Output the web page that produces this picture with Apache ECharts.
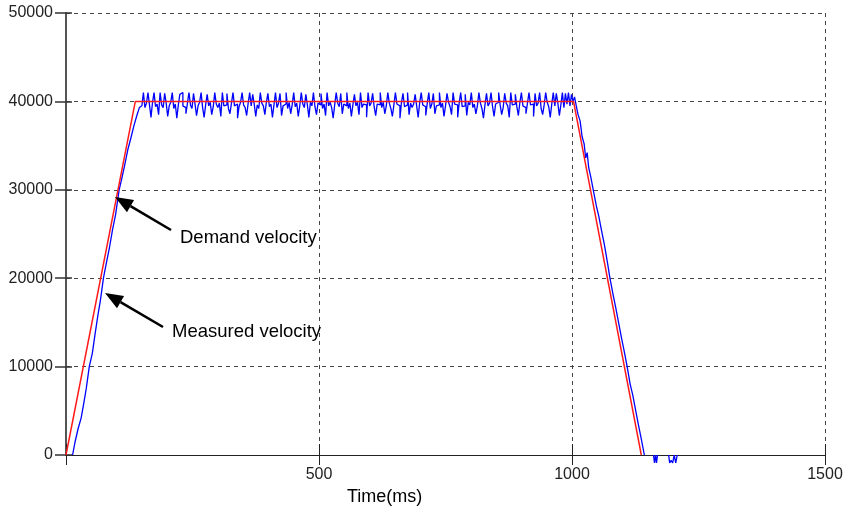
<!DOCTYPE html>
<html>
<head>
<meta charset="utf-8">
<script src="https://cdn.jsdelivr.net/npm/echarts@6/dist/echarts.min.js"></script>
<style>
  html, body { margin: 0; padding: 0; background: #fff; }
  #chart { width: 855px; height: 509px; }
</style>
</head>
<body>
<div id="chart"></div>
<script>
// Velocity profile: demand vs. measured (time in ms, velocity in counts/s)
const xTicks = [0, 500, 1000, 1500];
const yTicks = [0, 10000, 20000, 30000, 40000, 50000];

// Demand velocity: trapezoid corners
const demandTime = [0, 137, 1003, 1137];
const demandVel = [0, 40000, 40000, 0];

// Measured velocity: acceleration ramp
const rampUpTime = [13, 18, 24, 30, 35, 40, 46, 52, 57, 63, 68, 74, 80, 86, 92, 98, 105, 110, 116, 122, 128, 134, 140, 145, 150];
const rampUpVel = [0, 1500, 3000, 4200, 5800, 7500, 10000, 11500, 13500, 15800, 17500, 20000, 21800, 23500, 25500, 27200, 30000, 31200, 32800, 34500, 35800, 37200, 38400, 39300, 39500];

// Measured velocity: constant-speed section, sampled every 3 ms from 150 ms
const plateauStart = 150;
const plateauStep = 3;
const plateauVel = [
  39500, 41000, 39300, 39800, 41000, 39600, 38200, 39900, 41000, 39400, 39700, 38500, 41000, 39600, 39300,
  40900, 39800, 38300, 39500, 39900, 41000, 39200, 39700, 38100, 39600, 40800, 41000, 39500, 39300, 38600,
  39800, 41000, 39600, 39200, 40900, 39700, 38400, 39500, 39900, 41000, 39300, 38200, 39600, 40800, 39500,
  39900, 38500, 39400, 41000, 39700, 39300, 39800, 38300, 41000, 39500, 39600, 40900, 39200, 38600, 39800,
  41000, 39500, 39700, 38100, 39400, 39900, 41000, 39600, 39300, 38400, 39800, 41000, 39500, 40800, 39700,
  38300, 39600, 39200, 41000, 39800, 39500, 38500, 39900, 40900, 39400, 39700, 38200, 39600, 41000, 39300,
  39800, 40900, 38400, 39500, 39700, 41000, 39200, 39900, 38600, 39600, 41000, 39400, 39800, 38300, 39500,
  41000, 39700, 39300, 40800, 39600, 38200, 39900, 39500, 41000, 39400, 38500, 39800, 39600, 40900, 39200,
  39700, 38400, 41000, 39500, 39900, 39300, 38100, 39600, 41000, 39800, 39400, 40900, 38600, 39700, 39500,
  41000, 39200, 39800, 38300, 39600, 40800, 39500, 39900, 38500, 41000, 39300, 39700, 39600, 38200, 41000,
  39500, 39800, 40900, 39400, 38400, 39700, 39600, 41000, 39300, 39900, 38600, 39500, 41000, 39800, 39200,
  38300, 39600, 41000, 39700, 39500, 38100, 39900, 40900, 39400, 39600, 41000, 38500, 39800, 39300, 39700,
  40800, 39500, 38200, 39900, 41000, 39600, 39400, 38400, 39800, 41000, 39200, 39700, 40900, 38600, 39500,
  39600, 41000, 39300, 39800, 38300, 39500, 40900, 39900, 39400, 38500, 41000, 39700, 39600, 38200, 39800,
  41000, 39400, 39500, 40800, 38400, 39900, 39600, 41000, 39300, 39700, 38600, 39500, 41000, 39800, 39200,
  38100, 39600, 40900, 39500, 39800, 41000, 39400, 38300, 39700, 39900, 41000, 39600, 38500, 39300, 40900,
  39800, 39500, 38200, 41000, 39600, 39700, 40800, 39400, 38400, 39900, 41000, 39500, 39300, 38600, 39800,
  41000, 39600, 39700, 38300, 40900, 39500, 39800, 41000, 39200, 38500, 39600, 41000, 39900, 39400, 38200,
  39700, 41000, 39500, 40900, 39800, 38400, 39600, 41000, 39300, 40900, 39700, 41000, 39500, 40800, 40000
];

// Measured velocity: deceleration ramp
const rampDownTime = [1002, 1005, 1008, 1012, 1016, 1020, 1024, 1027, 1030, 1033, 1037, 1042, 1048, 1053, 1058, 1064, 1070, 1075, 1081, 1087, 1092, 1098, 1104, 1109, 1115, 1120, 1126, 1131, 1137, 1143];
const rampDownVel = [40000, 40500, 39600, 38500, 37800, 36000, 35200, 33600, 34200, 32500, 31500, 30000, 28200, 27000, 25500, 23800, 21800, 20000, 18200, 16500, 15000, 13200, 11500, 10000, 8000, 6800, 5000, 3500, 1800, 0];

// Measured velocity: small dithering around zero after stop (segments separated by null)
const settleTime = [1161, 1163, 1165, 1167, 1169, null, 1191, 1193, 1196, 1199, 1202, 1205, 1208];
const settleVel = [0, -900, 0, -900, 0, null, 0, -900, -600, -900, 0, -900, 0];

const demandData = demandTime.map((t, i) => [t, demandVel[i]]);
const plateauData = plateauVel.map((v, i) => [plateauStart + i * plateauStep, v]);
const rampData = [];
rampUpTime.forEach((t, i) => rampData.push([t, rampUpVel[i]]));
rampData.push(null);
rampDownTime.forEach((t, i) => rampData.push([t, rampDownVel[i]]));
rampData.push(null);
settleTime.forEach((t, i) => rampData.push(t === null ? null : [t, settleVel[i]]));

const chart = echarts.init(document.getElementById('chart'), null, { renderer: 'canvas' });

const FONT = 'Liberation Sans, Arial, sans-serif';
const BLUE = '#0000ff';
const gridLine = { show: true, lineStyle: { color: '#444', width: 1, type: [4, 4] } };
const gridBox = { left: 66, right: 30, top: 13, bottom: 54 };

// Annotation arrow pointing from a label toward a trace
function arrow(tip, tail) {
  const dx = tail[0] - tip[0], dy = tail[1] - tip[1];
  const len = Math.hypot(dx, dy);
  const ux = dx / len, uy = dy / len;
  const headLen = 18, halfW = 7;
  const bx = tip[0] + ux * headLen, by = tip[1] + uy * headLen;
  return [
    { type: 'line', z: 10, shape: { x1: bx, y1: by, x2: tail[0], y2: tail[1] }, style: { stroke: '#000', lineWidth: 2.6 } },
    { type: 'polygon', z: 10, shape: { points: [tip, [bx - uy * halfW, by + ux * halfW], [bx + uy * halfW, by - ux * halfW]] }, style: { fill: '#000' } }
  ];
}

const xRange = { min: xTicks[0], max: xTicks[xTicks.length - 1], interval: 500 };
const yRange = { min: yTicks[0], max: yTicks[yTicks.length - 1], interval: 10000 };

chart.setOption({
  backgroundColor: '#fff',
  animation: false,
  grid: [gridBox, gridBox],
  xAxis: [
    Object.assign({
      type: 'value', gridIndex: 0,
      axisLine: { show: true, onZero: false, lineStyle: { color: '#222', width: 1 } },
      axisTick: { show: true, inside: false, length: 10, lineStyle: { color: '#222', width: 1 } },
      axisLabel: {
        margin: 12, fontSize: 16, color: '#222', fontFamily: FONT,
        formatter: v => (v === 0 ? '' : String(v))
      },
      splitLine: gridLine
    }, xRange),
    // inward half of the crossing tick marks
    Object.assign({
      type: 'value', gridIndex: 1, position: 'bottom',
      axisLine: { show: false, onZero: false },
      axisTick: { show: true, inside: true, length: 11, lineStyle: { color: '#222', width: 1 } },
      axisLabel: { show: false }, splitLine: { show: false }
    }, xRange)
  ],
  yAxis: [
    Object.assign({
      type: 'value', gridIndex: 0,
      axisLine: { show: true, onZero: false, lineStyle: { color: '#555', width: 2 } },
      axisTick: { show: true, inside: false, length: 11, lineStyle: { color: '#333', width: 1.5 } },
      axisLabel: { margin: 13, fontSize: 16, color: '#222', fontFamily: FONT, formatter: v => String(v) },
      splitLine: gridLine
    }, yRange),
    Object.assign({
      type: 'value', gridIndex: 1, position: 'left',
      axisLine: { show: false, onZero: false },
      axisTick: { show: true, inside: true, length: 6, lineStyle: { color: '#333', width: 1.5 } },
      axisLabel: { show: false }, splitLine: { show: false }
    }, yRange)
  ],
  series: [
    {
      name: 'Measured velocity', type: 'line', data: plateauData, showSymbol: false,
      step: 'end', clip: false, z: 3,
      lineStyle: { color: BLUE, width: 1.3 }
    },
    {
      name: 'Measured velocity', type: 'line', data: rampData, showSymbol: false,
      clip: false, connectNulls: false, z: 3,
      lineStyle: { color: BLUE, width: 1.3 }
    },
    {
      name: 'Demand velocity', type: 'line', data: demandData, showSymbol: false,
      clip: false, z: 4,
      lineStyle: { color: '#ff1a1a', width: 1.5 }
    },
    { type: 'line', xAxisIndex: 1, yAxisIndex: 1, data: [], silent: true }
  ],
  graphic: [
    ...arrow([115, 197], [171, 230]),
    ...arrow([105, 293], [163, 327]),
    { type: 'text', z: 10, left: 180, top: 228, style: { text: 'Demand velocity', font: '18.5px ' + FONT, fill: '#000' } },
    { type: 'text', z: 10, left: 172, top: 322, style: { text: 'Measured velocity', font: '18.5px ' + FONT, fill: '#000' } },
    { type: 'text', z: 10, left: 347, top: 488, style: { text: 'Time(ms)', font: '18px ' + FONT, fill: '#000' } }
  ]
});
</script>
</body>
</html>
